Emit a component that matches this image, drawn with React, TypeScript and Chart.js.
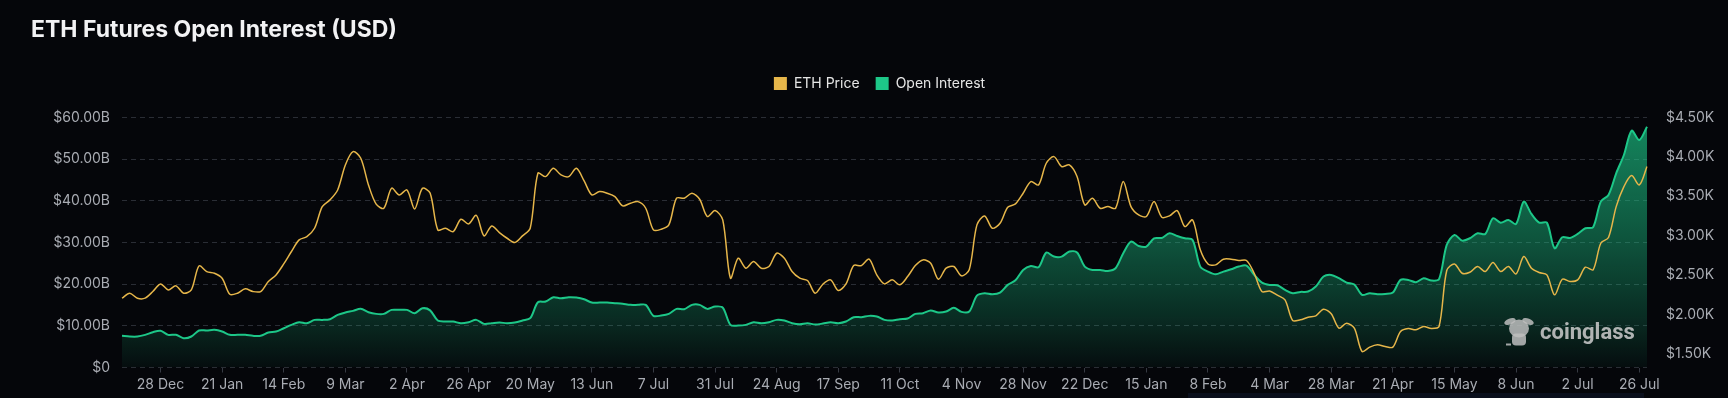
import React, { useEffect, useRef } from 'react';
import { Chart, registerables } from 'chart.js';

Chart.register(...registerables);

// ---- data (sampled every 3 days, starting 13 Dec 2023) ----
const START_YEAR = 2023;
const START_MONTH = 11; // December (0-based)
const START_DAY = 13;
const STEP_DAYS = 3;
const LABEL_EVERY = 8; // one x label every 24 days
const LABEL_OFFSET = 5; // first label: 28 Dec
const MONTHS = ['Jan', 'Feb', 'Mar', 'Apr', 'May', 'Jun', 'Jul', 'Aug', 'Sep', 'Oct', 'Nov', 'Dec'];

const priceUsd = [
  2209, 2272, 2209, 2209, 2293, 2390, 2314, 2365, 2272, 2314,
  2618, 2546, 2525, 2462, 2259, 2272, 2327, 2293, 2293, 2420,
  2504, 2643, 2800, 2947, 2989, 3095, 3369, 3454, 3580, 3897,
  4065, 3981, 3643, 3400, 3348, 3601, 3517, 3580, 3340, 3600,
  3540, 3074, 3095, 3053, 3209, 3150, 3259, 2998, 3124, 3040,
  2968, 2914, 2998, 3095, 3791, 3749, 3854, 3770, 3749, 3854,
  3694, 3517, 3559, 3538, 3496, 3378, 3411, 3432, 3348, 3074,
  3082, 3137, 3475, 3475, 3538, 3462, 3243, 3319, 3200, 2462,
  2715, 2589, 2673, 2589, 2610, 2778, 2715, 2546, 2462, 2432,
  2272, 2386, 2441, 2306, 2390, 2622, 2622, 2703, 2504, 2390,
  2441, 2378, 2483, 2622, 2694, 2652, 2449, 2589, 2610, 2492,
  2568, 3137, 3251, 3095, 3158, 3361, 3403, 3538, 3686, 3643,
  3918, 4002, 3876, 3897, 3749, 3390, 3475, 3348, 3369, 3348,
  3686, 3369, 3264, 3243, 3432, 3234, 3251, 3319, 3116, 3200,
  2821, 2643, 2631, 2703, 2703, 2686, 2686, 2525, 2293, 2300,
  2247, 2188, 1926, 1935, 1968, 1985, 2070, 2011, 1829, 1892,
  1829, 1534, 1589, 1618, 1597, 1589, 1787, 1825, 1808, 1850,
  1825, 1850, 2559, 2643, 2525, 2538, 2610, 2546, 2660, 2546,
  2610, 2517, 2736, 2589, 2534, 2504, 2251, 2449, 2420, 2441,
  2601, 2568, 2905, 2977, 3369, 3622, 3762, 3643, 3876,
];

const openInterestB = [
  7.59, 7.43, 7.43, 7.83, 8.47, 8.79, 7.83, 7.83, 7.03, 7.43,
  8.87, 8.87, 9.03, 8.63, 7.83, 7.83, 7.83, 7.59, 7.59, 8.39,
  8.63, 9.42, 10.22, 10.86, 10.62, 11.42, 11.42, 11.58, 12.62, 13.18,
  13.58, 14.06, 13.26, 12.86, 12.86, 13.82, 13.82, 13.82, 13.02, 14.2,
  13.7, 11.26, 11.02, 11.02, 10.62, 10.86, 11.42, 10.46, 10.62, 10.78,
  10.62, 10.78, 11.26, 11.82, 15.65, 15.81, 16.85, 16.61, 16.85, 16.77,
  16.37, 15.57, 15.57, 15.57, 15.42, 15.26, 15.02, 15.02, 15.02, 12.38,
  12.46, 12.86, 14.06, 13.98, 15.02, 15.02, 14.06, 14.62, 14.38, 10.22,
  10.06, 10.22, 10.86, 10.62, 10.86, 11.42, 11.26, 10.62, 10.38, 10.62,
  10.3, 10.54, 10.86, 10.62, 11.02, 12.06, 12.06, 12.38, 12.22, 11.42,
  11.26, 11.58, 11.74, 12.86, 13.02, 13.66, 13.18, 13.42, 14.3, 13.34,
  13.42, 17.25, 17.81, 17.57, 17.97, 19.81, 20.93, 23.4, 24.36, 24.04,
  27.56, 26.6, 26.6, 27.8, 27.56, 24.2, 23.4, 23.4, 23.16, 23.8,
  27.4, 30.19, 29.15, 28.99, 30.99, 31.07, 32.19, 31.55, 30.99, 30.59,
  24.2, 23.0, 22.36, 23.0, 23.56, 24.2, 24.44, 22.2, 20.37, 19.81,
  19.73, 18.61, 17.81, 18.13, 18.21, 19.41, 21.81, 22.2, 21.41, 20.37,
  19.89, 17.41, 17.81, 17.57, 17.65, 17.97, 21.01, 21.01, 20.45, 21.41,
  20.85, 21.2, 29.39, 31.79, 30.43, 30.99, 32.19, 32.03, 35.78, 34.74,
  35.38, 34.42, 39.78, 36.82, 34.74, 34.74, 28.59, 31.23, 31.07, 32.03,
  33.39, 33.63, 39.78, 41.37, 46.57, 50.96, 56.79, 54.55, 57.75,
];

const leftTicksB = [0, 10, 20, 30, 40, 50, 60];
const rightTicksUsd = [1500, 2000, 2500, 3000, 3500, 4000, 4500];

const dateLabels = priceUsd.map((_, i) => {
  const d = new Date(Date.UTC(START_YEAR, START_MONTH, START_DAY + i * STEP_DAYS));
  return `${d.getUTCDate()} ${MONTHS[d.getUTCMonth()]}`;
});

const PRICE_COLOR = '#e6b64a';
const OI_COLOR = '#1dc788';
const TICK_COLOR = '#a9acb3';
const BG = '#05060a';
const FONT = 'Inter';

const watermark = {
  id: 'watermark',
  afterDatasetsDraw(chart: any) {
    const { ctx, chartArea: a } = chart;
    ctx.save();
    ctx.fillStyle = 'rgba(200,200,200,0.88)';
    ctx.font = 'bold 22px Roboto';
    ctx.textAlign = 'left';
    ctx.textBaseline = 'middle';
    ctx.fillText('coinglass', a.right - 107, a.bottom - 34);
    // simplified bull icon
    const cx = a.right - 128;
    const cy = a.bottom - 36;
    ctx.fillStyle = 'rgba(190,190,190,0.85)';
    ctx.beginPath();
    ctx.ellipse(cx - 9, cy - 10, 6, 3, -0.35, 0, Math.PI * 2);
    ctx.fill();
    ctx.beginPath();
    ctx.ellipse(cx + 9, cy - 10, 6, 3, 0.35, 0, Math.PI * 2);
    ctx.fill();
    ctx.beginPath();
    ctx.ellipse(cx, cy - 3, 10, 9, 0, 0, Math.PI * 2);
    ctx.fill();
    ctx.beginPath();
    ctx.roundRect(cx - 7, cy + 2, 14, 12, 4);
    ctx.fill();
    ctx.fillRect(cx - 13, cy + 12, 5, 2);
    ctx.restore();
  },
};

export default function App() {
  const canvasRef = useRef<HTMLCanvasElement | null>(null);

  useEffect(() => {
    if (!canvasRef.current) return;
    const chart = new Chart(canvasRef.current, {
      type: 'line',
      data: {
        labels: dateLabels,
        datasets: [
          {
            label: 'ETH Price',
            data: priceUsd,
            yAxisID: 'y1',
            xAxisID: 'x',
            borderColor: PRICE_COLOR,
            backgroundColor: PRICE_COLOR,
            borderWidth: 1.5,
            pointRadius: 0,
            tension: 0.3,
            fill: false,
          },
          {
            label: 'Open Interest',
            data: openInterestB,
            yAxisID: 'y',
            xAxisID: 'x',
            borderColor: OI_COLOR,
            borderWidth: 2,
            pointRadius: 0,
            tension: 0.3,
            fill: 'origin',
            backgroundColor: (c: any) => {
              const { chart: ch } = c;
              const area = ch.chartArea;
              if (!area) return 'rgba(29,199,136,0.3)';
              const g = ch.ctx.createLinearGradient(0, area.top, 0, area.bottom);
              g.addColorStop(0, 'rgba(29,199,136,0.68)');
              g.addColorStop(0.5, 'rgba(29,199,136,0.4)');
              g.addColorStop(0.8, 'rgba(29,199,136,0.2)');
              g.addColorStop(1, 'rgba(29,199,136,0.04)');
              return g;
            },
          },
        ],
      },
      options: {
        responsive: true,
        maintainAspectRatio: false,
        animation: false,
        layout: { padding: { left: 31, right: 0, top: 0, bottom: 0 } },
        plugins: {
          title: {
            display: true,
            text: 'ETH Futures Open Interest (USD)',
            align: 'start',
            color: '#f2f2f4',
            font: { family: FONT, size: 23, weight: 'bold' },
            padding: { top: 16, bottom: 16.9 },
          },
          legend: {
            display: true,
            position: 'top',
            align: 'center',
            labels: {
              color: '#e6e6e6',
              font: { family: FONT, size: 14 },
              boxWidth: 13,
              boxHeight: 13,
              padding: 16,
              useBorderRadius: true,
              borderRadius: 2,
              generateLabels: () => [
                { text: 'ETH Price', fillStyle: PRICE_COLOR, strokeStyle: PRICE_COLOR, lineWidth: 0, hidden: false, datasetIndex: 0, fontColor: '#e6e6e6' },
                { text: 'Open Interest', fillStyle: OI_COLOR, strokeStyle: OI_COLOR, lineWidth: 0, hidden: false, datasetIndex: 1, fontColor: '#e6e6e6' },
              ],
            },
          },
          tooltip: { enabled: false },
        },
        scales: {
          x: {
            type: 'category',
            position: 'bottom',
            offset: false,
            grid: { display: true, drawOnChartArea: false, drawTicks: true, tickLength: 5, color: '#363a43' },
            border: { display: false },
            ticks: {
              autoSkip: false,
              maxRotation: 0,
              color: TICK_COLOR,
              font: { family: FONT, size: 14 },
              padding: 4,
              callback: function (this: any, v: any) {
                return this.getLabelForValue(v);
              },
            },
            afterBuildTicks: (s: any) => {
              s.ticks = s.ticks.filter((t: any) => (t.value - LABEL_OFFSET) % LABEL_EVERY === 0);
            },
            afterFit: (s: any) => {
              s.height = 30.5;
            },
          },
          xTop: {
            type: 'category',
            position: 'top',
            display: true,
            grid: { display: false },
            border: { display: false },
            ticks: { display: false },
            afterFit: (s: any) => {
              s.height = 16.8;
            },
          },
          y: {
            position: 'left',
            min: 0,
            max: 60,
            grid: { color: '#2a2d35', drawTicks: false, lineWidth: 1 },
            border: { display: false, dash: [5, 4] },
            afterBuildTicks: (s: any) => {
              s.ticks = leftTicksB.map((v) => ({ value: v }));
            },
            ticks: {
              color: TICK_COLOR,
              font: { family: FONT, size: 14 },
              padding: 12,
              callback: (v: any) => (v === 0 ? '$0' : `$${Number(v).toFixed(2)}B`),
            },
            afterFit: (s: any) => {
              s.width = 91;
            },
          },
          y1: {
            position: 'right',
            min: 1331,
            max: 4500,
            grid: { display: false },
            border: { display: false },
            afterBuildTicks: (s: any) => {
              s.ticks = rightTicksUsd.map((v) => ({ value: v }));
            },
            ticks: {
              color: TICK_COLOR,
              font: { family: FONT, size: 14 },
              padding: 11,
              callback: (v: any) => `$${(Number(v) / 1000).toFixed(2)}K`,
            },
            afterFit: (s: any) => {
              s.width = 81;
            },
          },
        },
      } as any,
      plugins: [watermark],
    });
    return () => chart.destroy();
  }, []);

  return (
    <div style={{ position: 'fixed', left: 0, top: 0, width: 1728, height: 398, background: BG, overflow: 'hidden' }}>
      <div style={{ position: 'absolute', left: 0, top: 0, width: 1728, height: 398 }}>
        <canvas ref={canvasRef} />
      </div>
      <div style={{ position: 'absolute', left: 1188, top: 393, width: 456, height: 5, background: '#0a0f1c' }} />
    </div>
  );
}
